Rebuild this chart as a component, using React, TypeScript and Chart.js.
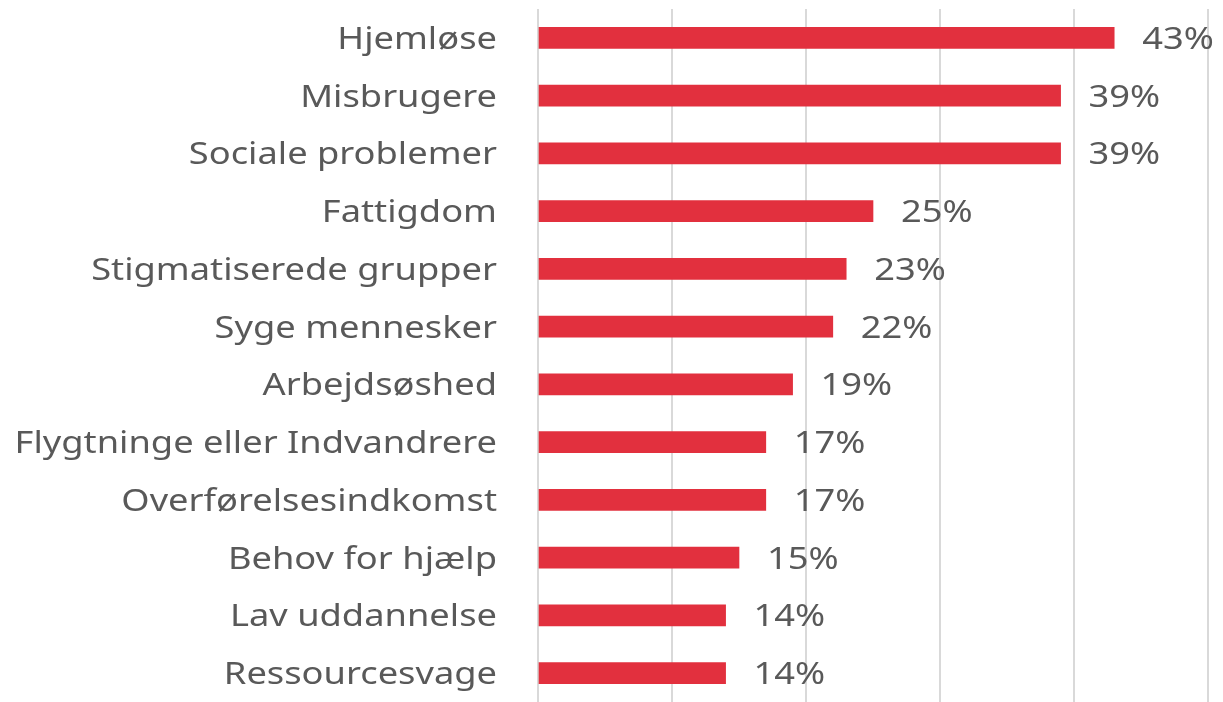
import React, { useEffect, useRef } from "react";
import { Chart, registerables } from "chart.js";

Chart.register(...registerables);

const categories = [
  "Hjemløse",
  "Misbrugere",
  "Sociale problemer",
  "Fattigdom",
  "Stigmatiserede grupper",
  "Syge mennesker",
  "Arbejdsøshed",
  "Flygtninge eller Indvandrere",
  "Overførelsesindkomst",
  "Behov for hjælp",
  "Lav uddannelse",
  "Ressourcesvage",
];

const values = [43, 39, 39, 25, 23, 22, 19, 17, 17, 15, 14, 14];

const FONT = "'Noto Sans', sans-serif";
const TEXT = "#595959";
const FONT_SIZE = 31;
const STRETCH = 1.17;

const textPlugin = {
  id: "stretchedText",
  afterDatasetsDraw(chart: any) {
    const ctx = chart.ctx;
    const meta = chart.getDatasetMeta(0);
    const left = chart.chartArea.left;
    ctx.save();
    ctx.font = `${FONT_SIZE}px ${FONT}`;
    ctx.fillStyle = TEXT;
    ctx.textBaseline = "alphabetic";
    meta.data.forEach((bar: any, i: number) => {
      const yb = bar.y + 11;
      // category label, right-aligned
      ctx.save();
      ctx.translate(left - 41, yb);
      ctx.scale(STRETCH, 1);
      ctx.textAlign = "right";
      ctx.fillText(categories[i], 0, 0);
      ctx.restore();
      // value label
      ctx.save();
      ctx.translate(bar.x + 28, yb);
      ctx.scale(STRETCH, 1);
      ctx.textAlign = "left";
      ctx.fillText(`${values[i]}%`, 0, 0);
      ctx.restore();
    });
    ctx.restore();
  },
};

export default function App() {
  const ref = useRef<HTMLCanvasElement>(null);
  useEffect(() => {
    if (!ref.current) return;
    const chart = new Chart(ref.current, {
      type: "bar",
      data: {
        labels: categories,
        datasets: [
          {
            data: values,
            backgroundColor: "#E2303E",
            barThickness: 21,
          },
        ],
      },
      options: {
        indexAxis: "y",
        animation: false,
        responsive: false,
        maintainAspectRatio: false,
        layout: { padding: { top: 9, right: 15, bottom: 0, left: 0 } },
        plugins: {
          legend: { display: false },
          tooltip: { enabled: false },
        },
        scales: {
          x: {
            min: 0,
            max: 50,
            ticks: { display: false, stepSize: 10 },
            grid: { color: "#D9D9D9", lineWidth: 2, drawTicks: false },
            border: { display: false },
            afterFit(scale: any) {
              scale.height = 0;
              scale.paddingLeft = 0;
              scale.paddingRight = 0;
            },
          },
          y: {
            grid: { display: false, drawTicks: false },
            border: { display: false },
            ticks: { display: false },
            afterFit(scale: any) {
              scale.width = 538;
              scale.paddingTop = 0;
              scale.paddingBottom = 0;
            },
          },
        },
      },
      plugins: [textPlugin],
    });
    return () => chart.destroy();
  }, []);
  return (
    <div style={{ position: "fixed", left: 0, top: 0, width: 1223, height: 702, background: "#fff" }}>
      <canvas ref={ref} width={1223} height={702} style={{ width: 1223, height: 702 }} />
    </div>
  );
}
